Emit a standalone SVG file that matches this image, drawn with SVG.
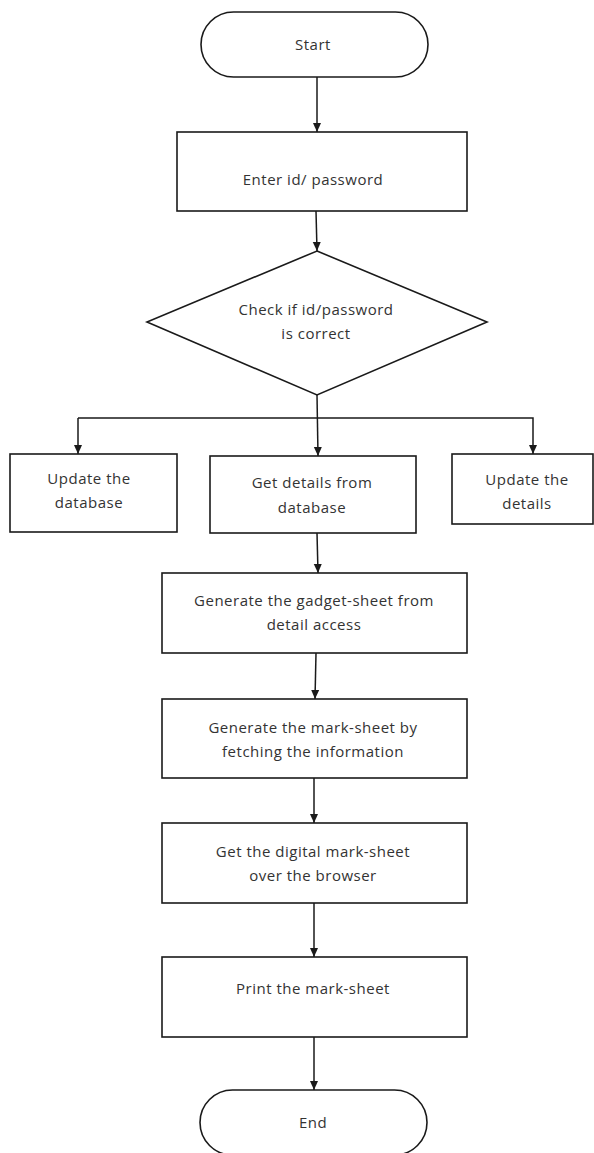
<svg xmlns="http://www.w3.org/2000/svg" width="594" height="1153" viewBox="0 0 594 1153">
<style>
.s{fill:#fff;stroke:#1a1a1a;stroke-width:1.6}
.t{font-family:"Open Sans","Noto Sans","DejaVu Sans",sans-serif;font-size:15px;letter-spacing:0.5px;fill:#333;text-anchor:middle}
.c{fill:none;stroke:#1a1a1a;stroke-width:1.5}
</style>
<defs>
<marker id="a" markerWidth="10" markerHeight="10" refX="9" refY="5" orient="auto" markerUnits="userSpaceOnUse">
<path d="M0,1 L9,5 L0,9 Z" fill="#1a1a1a"/>
</marker>
</defs>
<rect width="594" height="1153" fill="#fff"/>
<g id="connectors">
<path class="c" d="M317,77 L317,132" marker-end="url(#a)"/>
<path class="c" d="M316,211 L317,251" marker-end="url(#a)"/>
<path class="c" d="M317,395 L318,456" marker-end="url(#a)"/>
<path class="c" d="M78,418 L533,418 L533,454" marker-end="url(#a)"/>
<path class="c" d="M78,418 L78,454" marker-end="url(#a)"/>
<path class="c" d="M317,533 L318,573" marker-end="url(#a)"/>
<path class="c" d="M316,653 L315,699" marker-end="url(#a)"/>
<path class="c" d="M314,778 L314,823" marker-end="url(#a)"/>
<path class="c" d="M314,903 L314,957" marker-end="url(#a)"/>
<path class="c" d="M314,1037 L314,1090" marker-end="url(#a)"/>
</g>
<g id="start">
<rect class="s" x="201" y="12" width="227" height="65" rx="32.5"/>
<text class="t" x="313" y="50">Start</text>
</g>
<g id="enter">
<rect class="s" x="177" y="132" width="290" height="79"/>
<text class="t" x="313" y="185">Enter id/ password</text>
</g>
<g id="check">
<polygon class="s" points="317,251 487,322 317,395 147,322"/>
<text class="t" x="316" y="315">Check if id/password</text>
<text class="t" x="316" y="339">is correct</text>
</g>
<g id="update-db">
<rect class="s" x="10" y="454" width="167" height="78"/>
<text class="t" x="89" y="484">Update the</text>
<text class="t" x="89" y="508">database</text>
</g>
<g id="get-details">
<rect class="s" x="210" y="456" width="206" height="77"/>
<text class="t" x="312" y="488">Get details from</text>
<text class="t" x="312" y="513">database</text>
</g>
<g id="update-details">
<rect class="s" x="452" y="454" width="141" height="70"/>
<text class="t" x="527" y="485">Update the</text>
<text class="t" x="527" y="509">details</text>
</g>
<g id="gadget">
<rect class="s" x="162" y="573" width="305" height="80"/>
<text class="t" x="314" y="606">Generate the gadget-sheet from</text>
<text class="t" x="314" y="630">detail access</text>
</g>
<g id="marksheet">
<rect class="s" x="162" y="699" width="305" height="79"/>
<text class="t" x="313" y="733">Generate the mark-sheet by</text>
<text class="t" x="313" y="757">fetching the information</text>
</g>
<g id="digital">
<rect class="s" x="162" y="823" width="305" height="80"/>
<text class="t" x="313" y="857">Get the digital mark-sheet</text>
<text class="t" x="313" y="881">over the browser</text>
</g>
<g id="print">
<rect class="s" x="162" y="957" width="305" height="80"/>
<text class="t" x="313" y="994">Print the mark-sheet</text>
</g>
<g id="end">
<rect class="s" x="200" y="1090" width="227" height="65" rx="32.5"/>
<text class="t" x="313" y="1128">End</text>
</g>
</svg>
